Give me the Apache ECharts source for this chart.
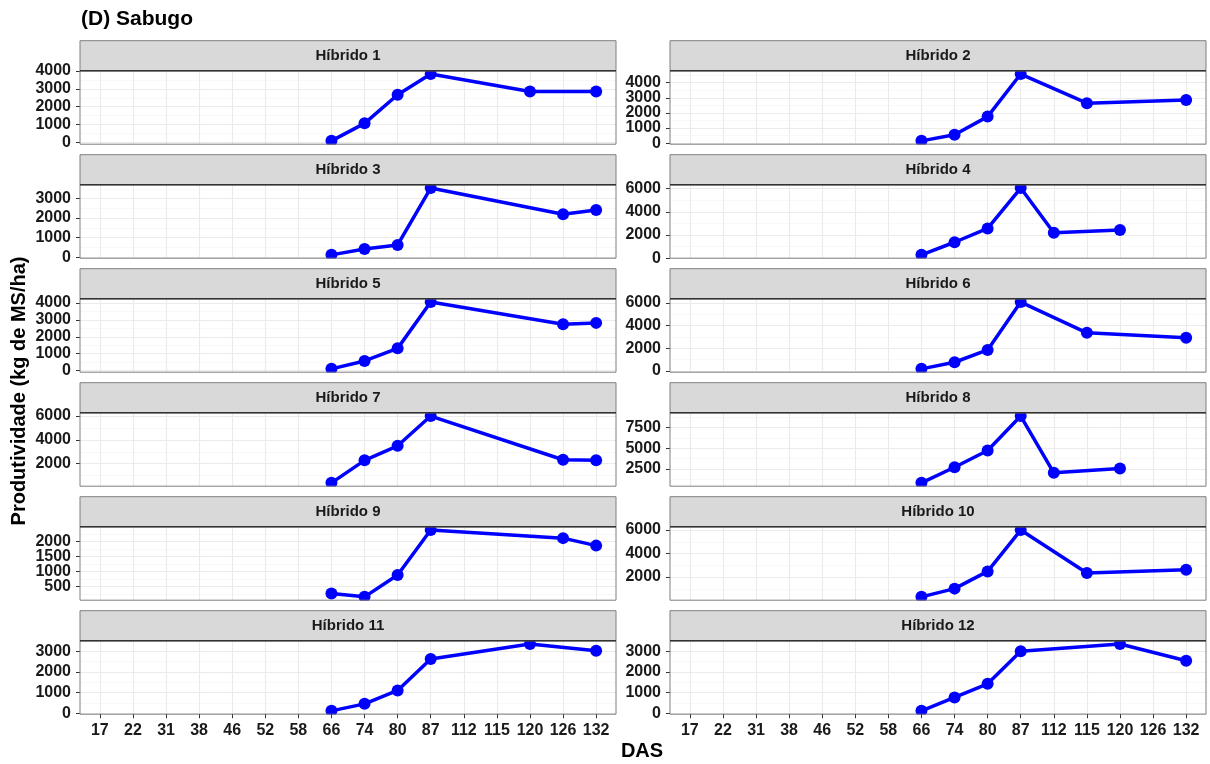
<!DOCTYPE html>
<html><head><meta charset="utf-8">
<script src="https://cdn.jsdelivr.net/npm/echarts@6/dist/echarts.min.js"></script>
<style>html,body{margin:0;padding:0;background:#fff}#c{width:1210px;height:764px}</style>
</head><body><div id="c"></div>
<script>
// ---- data ----
const categories = ['17','22','31','38','46','52','58','66','74','80','87','112','115','120','126','132'];
const hybridNames = ['Híbrido 1','Híbrido 2','Híbrido 3','Híbrido 4','Híbrido 5','Híbrido 6',
                     'Híbrido 7','Híbrido 8','Híbrido 9','Híbrido 10','Híbrido 11','Híbrido 12'];

const h1Days = [66, 74, 80, 87, 120, 132];
const h1Yield = [90, 1070, 2670, 3830, 2850, 2850];
const h1Ticks = [0, 1000, 2000, 3000, 4000];

const h2Days = [66, 74, 80, 87, 115, 132];
const h2Yield = [150, 550, 1755, 4570, 2640, 2860];
const h2Ticks = [0, 1000, 2000, 3000, 4000];

const h3Days = [66, 74, 80, 87, 126, 132];
const h3Yield = [115, 420, 625, 3540, 2200, 2410];
const h3Ticks = [0, 1000, 2000, 3000];

const h4Days = [66, 74, 80, 87, 112, 120];
const h4Yield = [280, 1370, 2570, 6060, 2190, 2430];
const h4Ticks = [0, 2000, 4000, 6000];

const h5Days = [66, 74, 80, 87, 126, 132];
const h5Yield = [100, 570, 1315, 4060, 2745, 2825];
const h5Ticks = [0, 1000, 2000, 3000, 4000];

const h6Days = [66, 74, 80, 87, 115, 132];
const h6Yield = [175, 760, 1845, 6085, 3360, 2925];
const h6Ticks = [0, 2000, 4000, 6000];

const h7Days = [66, 74, 80, 87, 126, 132];
const h7Yield = [390, 2280, 3500, 6000, 2330, 2280];
const h7Ticks = [2000, 4000, 6000];

const h8Days = [66, 74, 80, 87, 112, 120];
const h8Yield = [795, 2695, 4730, 8915, 2010, 2540];
const h8Ticks = [2500, 5000, 7500];

const h9Days = [66, 74, 80, 87, 126, 132];
const h9Yield = [260, 150, 880, 2380, 2110, 1860];
const h9Ticks = [500, 1000, 1500, 2000];

const h10Days = [66, 74, 80, 87, 115, 132];
const h10Yield = [315, 1015, 2480, 6000, 2340, 2620];
const h10Ticks = [2000, 4000, 6000];

const h11Days = [66, 74, 80, 87, 120, 132];
const h11Yield = [110, 450, 1100, 2625, 3355, 3030];
const h11Ticks = [0, 1000, 2000, 3000];

const h12Days = [66, 74, 80, 87, 120, 132];
const h12Yield = [110, 760, 1425, 3000, 3355, 2545];
const h12Ticks = [0, 1000, 2000, 3000];

const panels = [
  {days: h1Days, values: h1Yield, ticks: h1Ticks},
  {days: h2Days, values: h2Yield, ticks: h2Ticks},
  {days: h3Days, values: h3Yield, ticks: h3Ticks},
  {days: h4Days, values: h4Yield, ticks: h4Ticks},
  {days: h5Days, values: h5Yield, ticks: h5Ticks},
  {days: h6Days, values: h6Yield, ticks: h6Ticks},
  {days: h7Days, values: h7Yield, ticks: h7Ticks},
  {days: h8Days, values: h8Yield, ticks: h8Ticks},
  {days: h9Days, values: h9Yield, ticks: h9Ticks},
  {days: h10Days, values: h10Yield, ticks: h10Ticks},
  {days: h11Days, values: h11Yield, ticks: h11Ticks},
  {days: h12Days, values: h12Yield, ticks: h12Ticks}
];

// ---- layout / style ----
const FONT = '"Liberation Sans", Arial, Helvetica, sans-serif';
const colLeft = [80, 670];
const panelW = 536;
const stripTop0 = 40.7, rowPitch = 114, stripH = 30, panelH = 73.5;
const catIdx = categories.map((c, i) => i);

const grids = [], xAxes = [], yAxes = [], series = [], graphics = [];

const yLabelStyle = {
  show: true, margin: 9, hideOverlap: false, showMinLabel: true, showMaxLabel: true,
  formatter: v => String(v),
  fontFamily: FONT, fontWeight: 'bold', fontSize: 16, color: '#1a1a1a'
};

panels.forEach((p, i) => {
  const row = Math.floor(i / 2), col = i % 2;
  const left = colLeft[col];
  const sTop = stripTop0 + row * rowPitch;
  const pTop = sTop + stripH;
  const pBot = pTop + panelH;
  const isBottom = row === 5;

  grids.push({left: left, top: pTop, width: panelW, height: panelH, show: false});

  const lo = Math.min(...p.values), hi = Math.max(...p.values), r = hi - lo;
  const ymin = lo - 0.05 * r, ymax = hi + 0.05 * r;
  const step = p.ticks[1] - p.ticks[0];
  const minors = [];
  for (let k = -20; k < 40; k++) {
    const v = p.ticks[0] + step / 2 + k * step;
    if (v >= ymin && v <= ymax) minors.push(v);
  }
  const labelsA = p.ticks.filter((_, k) => k % 2 === 0);
  const labelsB = p.ticks.filter((_, k) => k % 2 === 1);

  // x axis A: grid lines + data
  xAxes.push({
    type: 'value', gridIndex: i, min: -0.6, max: 15.6, position: 'bottom',
    axisLine: {show: false, onZero: false},
    axisTick: {show: false, customValues: catIdx},
    axisLabel: {show: false, customValues: catIdx},
    splitLine: {show: true, lineStyle: {color: '#EBEBEB', width: 1.1}}
  });
  // x axis B: ticks + labels (on top)
  xAxes.push({
    type: 'value', gridIndex: i, min: -0.6, max: 15.6, z: 110, position: 'bottom',
    axisLine: {show: false, onZero: false},
    axisTick: {show: isBottom, customValues: catIdx, length: 4, lineStyle: {color: '#333', width: 1}},
    axisLabel: {show: isBottom, customValues: catIdx, margin: 8, hideOverlap: false,
      showMinLabel: true, showMaxLabel: true,
      formatter: v => categories[Math.round(v)],
      fontFamily: FONT, fontWeight: 'bold', fontSize: 16, color: '#1a1a1a'},
    splitLine: {show: false}
  });

  // y axis A: majors (ticks, grid, every other label)
  yAxes.push({
    type: 'value', gridIndex: i, min: ymin, max: ymax, position: 'left',
    axisLine: {show: false, onZero: false},
    axisTick: {show: true, customValues: p.ticks, length: 4, lineStyle: {color: '#333', width: 1}},
    axisLabel: Object.assign({}, yLabelStyle, {customValues: labelsA}),
    splitLine: {show: true, lineStyle: {color: '#EBEBEB', width: 1.1}}
  });
  // y axis B: minor grid + remaining labels
  yAxes.push({
    type: 'value', gridIndex: i, min: ymin, max: ymax, position: 'left', offset: 0,
    axisLine: {show: false, onZero: false},
    axisTick: {show: false, customValues: minors},
    axisLabel: Object.assign({}, yLabelStyle, {customValues: labelsB, show: labelsB.length > 0}),
    splitLine: {show: true, lineStyle: {color: '#F3F3F3', width: 0.6}}
  });

  series.push({
    type: 'line', xAxisIndex: 2 * i, yAxisIndex: 2 * i,
    data: p.days.map((d, k) => [categories.indexOf(String(d)), p.values[k]]),
    symbol: 'circle', symbolSize: 12, showSymbol: true,
    lineStyle: {color: '#0000FF', width: 3.5},
    itemStyle: {color: '#0000FF'},
    z: 2, animation: false
  });

  // cover below panel (emulate clipping)
  graphics.push({type: 'rect', z: 100, silent: true,
    shape: {x: left - 0.5, y: pBot + 0.6, width: panelW + 1, height: isBottom ? 7 : (rowPitch - stripH - panelH - 1.2)},
    style: {fill: '#fff'}});
  // strip
  graphics.push({type: 'rect', z: 100, silent: true,
    shape: {x: left, y: sTop, width: panelW, height: stripH},
    style: {fill: '#D9D9D9', stroke: '#7F7F7F', lineWidth: 1}});
  // panel border
  graphics.push({type: 'rect', z: 100, silent: true,
    shape: {x: left, y: pTop, width: panelW, height: panelH},
    style: {fill: 'rgba(0,0,0,0)', stroke: '#7F7F7F', lineWidth: 1}});
  // strip / panel separator
  graphics.push({type: 'line', z: 101, silent: true,
    shape: {x1: left, y1: pTop, x2: left + panelW, y2: pTop},
    style: {stroke: '#333', lineWidth: 1.4}});
  // strip text
  graphics.push({type: 'text', z: 102, silent: true, x: left + panelW / 2, y: sTop + stripH / 2,
    style: {text: hybridNames[i], align: 'center', verticalAlign: 'middle',
      font: 'bold 15px ' + FONT, fill: '#1a1a1a'}});
});

graphics.push({type: 'text', z: 102, x: 81, y: 19,
  style: {text: '(D) Sabugo', align: 'left', verticalAlign: 'middle', font: 'bold 21px ' + FONT, fill: '#000'}});
graphics.push({type: 'text', z: 102, x: 642, y: 751,
  style: {text: 'DAS', align: 'center', verticalAlign: 'middle', font: 'bold 20px ' + FONT, fill: '#000'}});
graphics.push({type: 'text', z: 102, x: 19, y: 391, rotation: Math.PI / 2,
  style: {text: 'Produtividade (kg de MS/ha)', align: 'center', verticalAlign: 'middle', font: 'bold 20px ' + FONT, fill: '#000'}});

const chart = echarts.init(document.getElementById('c'), null, {renderer: 'canvas'});
chart.setOption({
  animation: false,
  backgroundColor: '#fff',
  grid: grids,
  xAxis: xAxes,
  yAxis: yAxes,
  series: series,
  graphic: {elements: graphics}
});
</script>
</body></html>
